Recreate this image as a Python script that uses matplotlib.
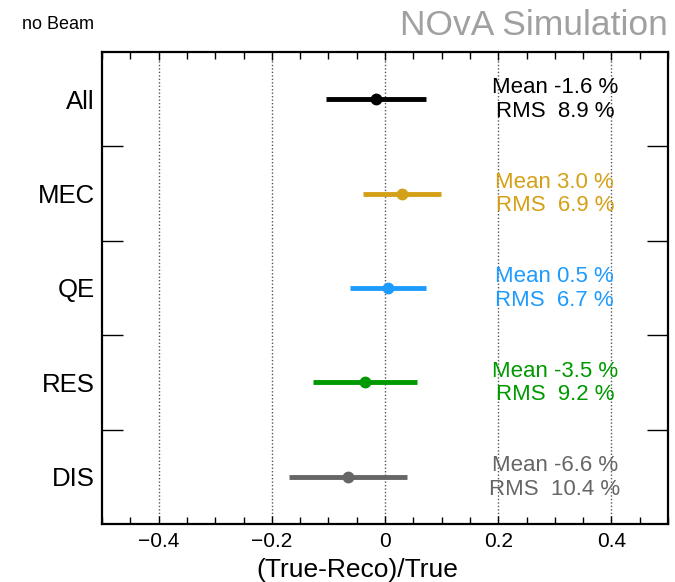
import matplotlib
matplotlib.use("Agg")
import matplotlib.pyplot as plt
from matplotlib.ticker import FixedLocator, MultipleLocator

plt.rcParams['font.family'] = ['Liberation Sans', 'DejaVu Sans']

categories = ["All", "MEC", "QE", "RES", "DIS"]
means = [-0.016, 0.030, 0.005, -0.035, -0.066]
rms = [0.089, 0.069, 0.067, 0.092, 0.104]
colors = ["#000000", "#D4A017", "#1E9BFF", "#009900", "#666666"]
xticks = [-0.4, -0.2, 0.0, 0.2, 0.4]
xticklabels = ["\u22120.4", "\u22120.2", "0", "0.2", "0.4"]

fig = plt.figure(figsize=(6.75, 5.82), dpi=100)
ax = fig.add_axes([102/675, 58/582, 566/675, 472/582])

n = len(categories)
ypos = [n - 0.5 - i for i in range(n)]

for i in range(n):
    ax.errorbar(means[i], ypos[i], xerr=rms[i], fmt='o', color=colors[i],
                ecolor=colors[i], elinewidth=3.5, markersize=7.5, capsize=0, zorder=3)
    ax.text(0.3, ypos[i] + 0.12, f"Mean {means[i]*100:.1f} %", color=colors[i],
            fontsize=16, ha='center', va='center')
    ax.text(0.3, ypos[i] - 0.13, f"RMS  {rms[i]*100:.1f} %", color=colors[i],
            fontsize=16, ha='center', va='center')

ax.set_xlim(-0.5, 0.5)
ax.set_ylim(0, n)

for x in xticks:
    ax.axvline(x, color='#555555', linestyle=(0, (1, 1.5)), linewidth=1.0, zorder=1)

ax.xaxis.set_major_locator(FixedLocator(xticks))
ax.set_xticklabels(xticklabels)
ax.xaxis.set_minor_locator(MultipleLocator(0.05))
ax.tick_params(axis='x', which='both', direction='in', top=True, bottom=True,
               labelsize=15, width=1.0, pad=6)
ax.tick_params(axis='x', which='major', length=6)
ax.tick_params(axis='x', which='minor', length=5)

ax.yaxis.set_major_locator(FixedLocator(ypos))
ax.set_yticklabels(categories)
ax.yaxis.set_minor_locator(FixedLocator([1, 2, 3, 4]))
ax.tick_params(axis='y', which='major', length=0, labelsize=18.5, pad=5)
ax.tick_params(axis='y', which='minor', direction='in', length=15, width=1.0,
               left=True, right=True)

for s in ax.spines.values():
    s.set_linewidth(1.6)

ax.set_xlabel("(True-Reco)/True", fontsize=19, labelpad=1)
ax.xaxis.set_label_coords(0.451, -0.071)

fig.text(668/675, 1 - 35/582, "NOvA Simulation", color='#A0A0A0', fontsize=25.5,
         ha='right', va='baseline')
fig.text(22/675, 1 - 29/582, "no Beam", color='black', fontsize=13,
         ha='left', va='baseline')

fig.savefig("out.png", dpi=100)
